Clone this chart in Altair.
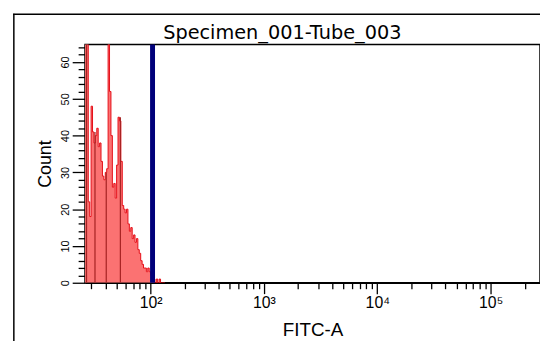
import altair as alt
import pandas as pd

# ---- data ----
# histogram: bins of equal width in log10(FITC-A) starting at log10 = 1.40
bin_start_log = 1.40
bin_step_log = 0.0125
counts = [80, 80, 80, 70, 22, 18, 48, 41, 38, 40, 42, 37, 38, 33, 29, 28,
          30, 31, 80, 52, 40, 26, 27, 23, 32, 45, 44, 33, 21, 20, 19, 20,
          16, 14, 15, 12, 13, 11, 12, 9, 8, 6, 5, 4, 4, 3, 4, 3, 2, 1, 1,
          0, 1, 0, 1, 0, 0, 0]

# thin dark lines inside the filled histogram (FITC-A value, count height)
dip_x = [27.2, 32.3, 40.6, 54.1]
dip_h = [80, 41, 30, 45]

# gate marker
gate_x = [104.0]

x_ticks = [30, 40, 50, 60, 70, 80, 90,
           100, 200, 300, 400, 500, 600, 700, 800, 900,
           1000, 2000, 3000, 4000, 5000, 6000, 7000, 8000, 9000,
           10000, 20000, 30000, 40000, 50000, 60000, 70000, 80000, 90000,
           100000, 200000]
y_ticks = list(range(0, 65, 2))

title_text = "Specimen_001-Tube_003"
x_title = "FITC-A"
y_title = "Count"

# ---- tables ----
edges = [10 ** (bin_start_log + bin_step_log * i) for i in range(len(counts) + 1)]
hist = pd.DataFrame({"x": edges, "y": counts + [counts[-1]], "y0": 0})
dips = pd.DataFrame({"x": dip_x, "y": dip_h, "y0": 0})
gate = pd.DataFrame({"x": gate_x})
title_df = pd.DataFrame({"t": [title_text]})
one = pd.DataFrame({"a": [0]})

xscale = alt.Scale(type="log", domain=[26.4, 272500], nice=False)
yscale = alt.Scale(domain=[0, 64.8], nice=False, zero=True)

X = alt.X(
    "x:Q", scale=xscale,
    axis=alt.Axis(
        values=x_ticks,
        labelExpr="datum.value == 100 ? '10²' : datum.value == 1000 ? '10³' : datum.value == 10000 ? '10⁴' : datum.value == 100000 ? '10⁵' : ''",
        tickSize={"condition": {"test": "datum.value == 100 || datum.value == 1000 || datum.value == 10000 || datum.value == 100000", "value": 11}, "value": 6},
        tickColor="black", tickWidth=1.3, domainColor="black", domainWidth=1.5,
        labelFont="Liberation Sans", labelFontSize=16, labelColor="black", labelPadding=1,
        labelFlush=False, labelOverlap=False,
        title=x_title, titleFont="Liberation Sans", titleFontSize=19,
        titleFontWeight="normal", titleColor="black", titlePadding=10,
        grid=False,
    ),
)
Y = alt.Y(
    "y:Q", scale=yscale,
    axis=alt.Axis(
        values=y_ticks,
        labelExpr="datum.value % 10 == 0 ? datum.label : ''",
        tickSize={"condition": {"test": "datum.value % 10 == 0", "value": 13}, "value": 7},
        tickColor="black", tickWidth=1.3, domainColor="black", domainWidth=1.5,
        labelAngle=270, labelAlign="center", labelBaseline="bottom",
        labelFont="Liberation Sans", labelFontSize=11, labelColor="black", labelPadding=2,
        labelFlush=False, labelOverlap=False,
        title=y_title, titleFont="Liberation Sans", titleFontSize=18,
        titleFontWeight="normal", titleColor="black", titlePadding=5,
        grid=False,
    ),
)

# outer frame of the figure (left and top edges; the rest lies outside the window)
frame_left = alt.Chart(one).mark_rule(color="black", strokeWidth=1.5, clip=False).encode(
    x=alt.value(-72), y=alt.value(-31), y2=alt.value(500)
)
frame_top = alt.Chart(one).mark_rect(color="black", clip=False).encode(
    x=alt.value(-72.75), x2=alt.value(700), y=alt.value(-31.25), y2=alt.value(-29.75)
)

title_mark = alt.Chart(title_df).mark_text(
    align="left", baseline="alphabetic", font="DejaVu Sans", fontSize=19.5,
    color="black", clip=False
).encode(text="t:N", x=alt.value(79), y=alt.value(-5))

area = alt.Chart(hist).mark_area(
    interpolate="step-after", color="#fb7272", clip=True
).encode(x=X, y=Y, y2="y0:Q")

line = alt.Chart(hist).mark_line(
    interpolate="step-after", color="#e60f18", strokeWidth=1, clip=True
).encode(x=X, y=Y)

dip = alt.Chart(dips).mark_rule(color="#a52222", strokeWidth=1.2, clip=True).encode(
    x=X, y=Y, y2="y0:Q"
)

gate_rule = alt.Chart(gate).mark_rule(color="#00007a", strokeWidth=5).encode(x=X)

chart = alt.layer(frame_left, frame_top, title_mark, area, line, dip, gate_rule).properties(
    width=460,
    height=241,
    background="white",
    autosize=alt.AutoSizeParams(type="none"),
    padding={"left": 86, "top": 43, "right": 0, "bottom": 57},
).configure_view(stroke="black", strokeWidth=1.5)

chart.save("out.html", embed_options={"renderer": "svg", "actions": False})
